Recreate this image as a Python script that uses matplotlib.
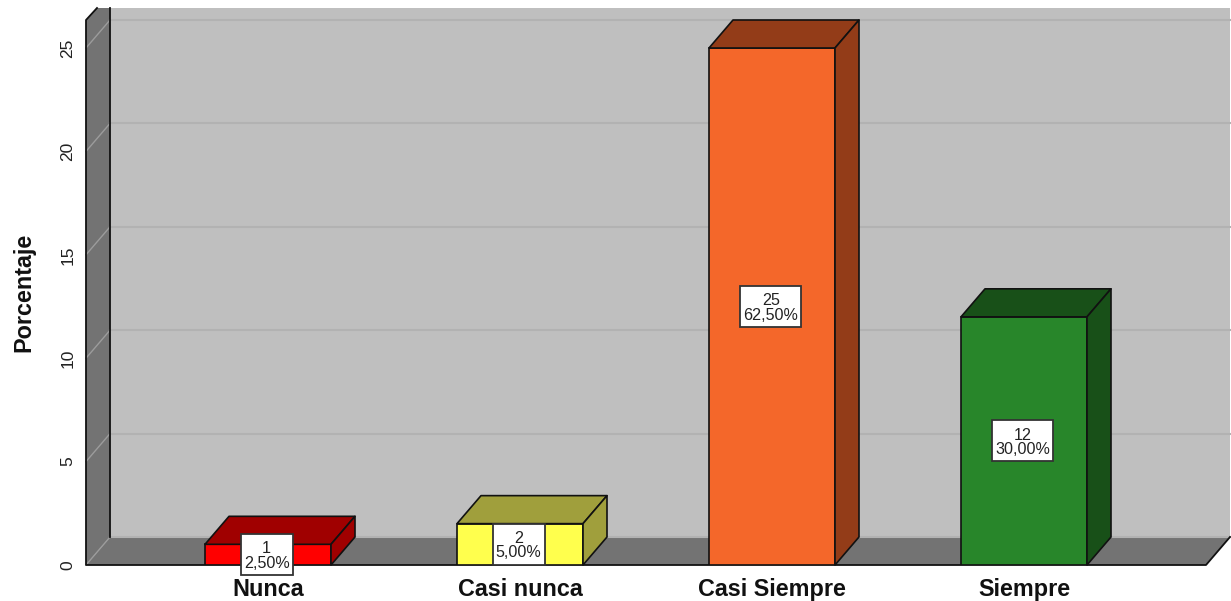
import matplotlib
matplotlib.use('Agg')
import matplotlib.pyplot as plt
from matplotlib.patches import Polygon, Rectangle
from matplotlib.transforms import IdentityTransform

plt.rcParams['font.family'] = ['Liberation Sans', 'DejaVu Sans']

categorias = ['Nunca', 'Casi nunca', 'Casi Siempre', 'Siempre']
frecuencias = [1, 2, 25, 12]
porcentajes = ['2,50%', '5,00%', '62,50%', '30,00%']
ticks_y = [0, 5, 10, 15, 20, 25]

colores = ['#FF0000', '#FFFF4D', '#F4672A', '#28862A']
sombras = ['#A00000', '#A09F3C', '#933C18', '#185018']

# profundidad del efecto 3D, en unidades de datos
ancho = 0.5
dx = 24 / 252
dy = 28 / 20.68
x0, x1 = -182 / 252, 938 / 252
y_top = 545 / 20.68
y_wall = 557 / 20.68

LINEA = '#111111'

fig = plt.figure(figsize=(12.31, 6.01), dpi=100)
ax = fig.add_axes([86 / 1231, 36 / 601, 1120 / 1231, 545 / 601])
ax.set_xlim(x0, x1)
ax.set_ylim(0, y_top)


def poly(puntos, color, lw=0.0, ec='none', z=1):
    ax.add_patch(Polygon(puntos, closed=True, fc=color, ec=ec, lw=lw, zorder=z,
                         clip_on=False, joinstyle='round'))


# pared del fondo, pared lateral y suelo
poly([(x0 + dx, dy), (x1 + dx, dy), (x1 + dx, y_wall), (x0 + dx, y_wall)], '#BFBFBF')
poly([(x0, 0), (x0 + dx, dy), (x0 + dx, y_wall), (x0 + dx * 11 / 24, y_wall), (x0, y_top)], '#737373')
poly([(x0, 0), (x1, 0), (x1 + dx, dy), (x0 + dx, dy)], '#737373')

# rejilla
for t in ticks_y:
    ax.plot([x0 + dx, x1 + dx], [t + dy, t + dy], color='#B2B2B2', lw=1.5, zorder=2, clip_on=False)
    ax.plot([x0, x0 + dx], [t, t + dy], color='#9C9C9C', lw=1.0, zorder=2, clip_on=False)

# bordes
ax.plot([x0 + dx, x0 + dx], [dy, y_wall], color=LINEA, lw=1.3, zorder=3, clip_on=False)
ax.plot([x0 + dx * 11 / 24, x0, x0, x1, x1 + dx],
        [y_wall, y_top, 0, 0, dy], color=LINEA, lw=1.3, zorder=3, clip_on=False)

# barras
etiquetas = []
for i, v in enumerate(frecuencias):
    izq = i - ancho / 2
    der = i + ancho / 2
    ax.bar(i, v, width=ancho, color=colores[i], edgecolor=LINEA, linewidth=1.2, zorder=4)
    poly([(izq, v), (der, v), (der + dx, v + dy), (izq + dx, v + dy)], sombras[i], 1.2, LINEA, 4)
    poly([(der, 0), (der + dx, dy), (der + dx, v + dy), (der, v)], sombras[i], 1.2, LINEA, 4)
    etiquetas.append(ax.annotate('%d\n%s' % (v, porcentajes[i]), (i - 0.005, v / 2), xytext=(0, -1),
                                 textcoords='offset points', ha='center', va='center', fontsize=11.6,
                                 color='#222222', linespacing=0.95, zorder=6, annotation_clip=False))

# caja blanca de cada etiqueta, en pixeles alrededor del texto
render = fig.canvas.get_renderer()
for t in etiquetas:
    caja = t.get_window_extent(render)
    cy = (caja.y0 + caja.y1) / 2 + 1.4
    ax.add_patch(Rectangle((caja.x0 - 3, cy - 20.5), caja.width + 6, 41, fc='white', ec='#333333',
                           lw=1.3, zorder=5, clip_on=False, transform=IdentityTransform()))

ax.set_xticks(range(len(categorias)))
ax.set_xticklabels(categorias, fontsize=16.8, fontweight='bold', color='#111111')
ax.set_yticks(ticks_y)
ax.set_yticklabels(ticks_y, rotation=90, va='center', fontsize=12.5, color='#222222')
ax.tick_params(axis='x', length=0, pad=9.5)
ax.tick_params(axis='y', length=0, pad=7.5)
for s in ax.spines.values():
    s.set_visible(False)
ax.patch.set_visible(False)

fig.text(24 / 1231, 1 - 292 / 601, 'Porcentaje', rotation=90, ha='center', va='center',
         fontsize=16.8, fontweight='bold', color='#111111')

fig.savefig('out.png', dpi=100)
